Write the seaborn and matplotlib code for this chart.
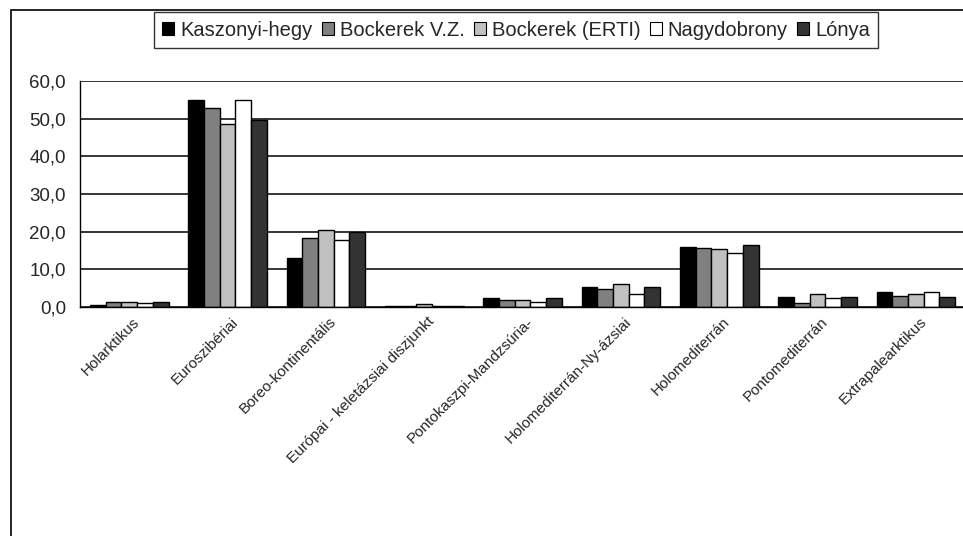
import matplotlib
matplotlib.use("Agg")
import matplotlib.pyplot as plt
import matplotlib.transforms as mtransforms
import numpy as np
import pandas as pd
import seaborn as sns
from matplotlib.patches import Rectangle
from matplotlib.ticker import FuncFormatter, MultipleLocator

# categories (x axis) and sites (legend)
categories = ["Holarktikus", "Euroszibériai", "Boreo-kontinentális",
              "Európai - keletázsiai diszjunkt", "Pontokaszpi-Mandzsúria-",
              "Holomediterrán-Ny-ázsiai", "Holomediterrán", "Pontomediterrán",
              "Extrapalearktikus"]
sites = ["Kaszonyi-hegy", "Bockerek V.Z.", "Bockerek (ERTI)", "Nagydobrony", "Lónya"]

# values (%)
kaszonyi = [0.6, 55.0, 12.9, 0.3, 2.3, 5.4, 16.0, 2.7, 4.1]
bockerek_vz = [1.3, 52.7, 18.3, 0.3, 1.9, 4.9, 15.6, 1.1, 3.0]
bockerek_erti = [1.3, 48.7, 20.4, 0.8, 1.9, 6.0, 15.3, 3.4, 3.4]
nagydobrony = [1.0, 54.9, 17.8, 0.3, 1.4, 3.4, 14.4, 2.5, 4.1]
lonya = [1.3, 49.7, 20.0, 0.3, 2.3, 5.3, 16.4, 2.7, 2.6]

colors = ["#000000", "#808080", "#c0c0c0", "#ffffff", "#333333"]

df = pd.DataFrame({"kategoria": categories * 5,
                   "hely": np.repeat(sites, len(categories)),
                   "ertek": kaszonyi + bockerek_vz + bockerek_erti + nagydobrony + lonya})

sns.set_style("white")
plt.rcParams["font.family"] = ["Liberation Sans", "DejaVu Sans"]

fig = plt.figure(figsize=(9.63, 5.36), dpi=100)
ax = fig.add_axes([80 / 963, 1 - 307 / 536, 885 / 963, 226 / 536])

sns.barplot(data=df, x="kategoria", y="ertek", hue="hely", order=categories,
            hue_order=sites, palette=colors, edgecolor="black", linewidth=1,
            width=0.8, saturation=1, errorbar=None, ax=ax)

ax.set_ylim(0, 60)
ax.set_xlim(-0.5, len(categories) - 0.5)
ax.yaxis.set_major_locator(MultipleLocator(10))
ax.yaxis.set_major_formatter(FuncFormatter(lambda v, p: f"{v:.1f}".replace(".", ",")))
ax.yaxis.grid(True, color="black", linewidth=1.1)
ax.set_axisbelow(True)
ax.set_xlabel("")
ax.set_ylabel("")

# category ticks sit between the groups
ax.set_xticks(np.arange(len(categories)))
ax.set_xticklabels(categories, rotation=45, ha="right", va="center",
                   rotation_mode="anchor", fontsize=11)
ax.tick_params(axis="x", length=0, pad=9)
shift = mtransforms.ScaledTranslation(6 / 72, 0, fig.dpi_scale_trans)
for lbl in ax.get_xticklabels():
    lbl.set_transform(lbl.get_transform() + shift)
ax.set_xticks(np.arange(len(categories) + 1) - 0.5, minor=True)
ax.tick_params(axis="x", which="minor", length=6, width=1, color="black", direction="out")
ax.tick_params(axis="y", length=6, width=1, color="black", direction="out", pad=4,
               labelsize=13.5)

for s in ["top", "right"]:
    ax.spines[s].set_visible(False)
for s in ["left", "bottom"]:
    ax.spines[s].set_color("black")
    ax.spines[s].set_linewidth(1)

leg = ax.legend(loc="center", bbox_to_anchor=(516 / 963, 1 - 30 / 536),
                bbox_transform=fig.transFigure, ncol=5, frameon=True,
                handlelength=0.6, handleheight=0.6, handletextpad=0.3,
                columnspacing=0.45, borderpad=0.4, fontsize=14.5, fancybox=False)
leg.get_frame().set_edgecolor("black")
leg.get_frame().set_linewidth(1)
for h in leg.legend_handles:
    h.set_edgecolor("black")
    h.set_linewidth(0.8)

# outer chart-area border (cut off on the right and bottom)
fig.patches.append(Rectangle((11 / 963, -0.1), 1.2, 1.1 - 10 / 536,
                             transform=fig.transFigure, fill=False,
                             edgecolor="black", linewidth=1.2))

fig.savefig("out.png", dpi=100)
